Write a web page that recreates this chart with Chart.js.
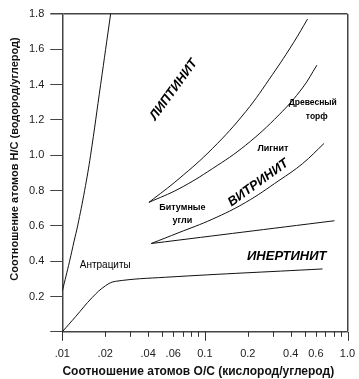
<!DOCTYPE html>
<html>
<head>
<meta charset="utf-8">
<script src="https://cdn.jsdelivr.net/npm/chart.js@4.4.1/dist/chart.umd.min.js"></script>
<style>
  html, body { margin: 0; padding: 0; background: #fff; }
  #wrap { width: 359px; height: 379px; }
</style>
</head>
<body>
<div id="wrap"><canvas id="vk"></canvas></div>
<script>
// кривые диаграммы (O/C по x, H/C по y)
var steepOC = [0.01, 0.01125, 0.0121, 0.01281, 0.01434, 0.01579, 0.01857, 0.02182];
var steepHC = [0.23, 0.40, 0.514, 0.60, 0.80, 1.00, 1.40, 1.80];

var anthrOC = [0.01, 0.0124, 0.0162, 0.0201, 0.0237, 0.0531, 0.668];
var anthrHC = [0.0, 0.086, 0.194, 0.261, 0.286, 0.309, 0.356];

var liptOC = [0.0405, 0.0658, 0.1129, 0.1933, 0.2977, 0.420, 0.524];
var liptHC = [0.733, 0.867, 1.038, 1.247, 1.457, 1.64, 1.771];

var peatOC = [0.0405, 0.0658, 0.1129, 0.1933, 0.331, 0.483, 0.61];
var peatHC = [0.733, 0.81, 0.924, 1.057, 1.229, 1.381, 1.51];

var vitrOC = [0.042, 0.0658, 0.1129, 0.1933, 0.331, 0.483, 0.685];
var vitrHC = [0.50, 0.562, 0.638, 0.733, 0.857, 0.952, 1.067];

var inertOC = [0.042, 0.81];
var inertHC = [0.50, 0.629];

var xTickValues = [0.01,0.02,0.03,0.04,0.05,0.06,0.07,0.08,0.09,0.1,0.2,0.3,0.4,0.5,0.6,0.7,0.8,0.9,1];
var xTickLabels = [".01",".02","",".04","",".06","","","","0.1","0.2","","0.4","","0.6","","","","1.0"];
var xMajorTicks = [0.01, 0.1, 1];
var yTickValues = [0,0.2,0.4,0.6,0.8,1.0,1.2,1.4,1.6,1.8];
var yTickLabels = ["","0.2","0.4","0.6","0.8","1.0","1.2","1.4","1.6","1.8"];

var xTitle = "Соотношение атомов O/C (кислород/углерод)";
var yTitle = "Соотношение атомов H/C (водород/углерод)";

function pts(xs, ys) {
  return xs.map(function(x, i){ return {x: x, y: ys[i]}; });
}

function curve(xs, ys) {
  return {
    data: pts(xs, ys),
    showLine: true,
    borderColor: "#111",
    borderWidth: 1,
    pointRadius: 0,
    tension: 0.4
  };
}

// подписи областей: координаты в единицах осей
var areaLabels = [
  {text: "ЛИПТИНИТ", x: 0.0604, y: 1.371, rot: -54, font: "italic bold 13px 'Liberation Sans'"},
  {text: "Древесный", x: 0.571, y: 1.297, rot: 0, font: "bold 8.5px 'Liberation Sans'"},
  {text: "торф", x: 0.609, y: 1.217, rot: 0, font: "bold 8.5px 'Liberation Sans'"},
  {text: "Лигнит", x: 0.30, y: 1.04, rot: 0, font: "bold 9px 'Liberation Sans'"},
  {text: "ВИТРИНИТ", x: 0.2366, y: 0.843, rot: -36, font: "italic bold 13px 'Liberation Sans'"},
  {text: "Битумные", x: 0.0695, y: 0.705, rot: 0, font: "bold 9px 'Liberation Sans'"},
  {text: "угли", x: 0.0695, y: 0.629, rot: 0, font: "bold 9px 'Liberation Sans'"},
  {text: "ИНЕРТИНИТ", x: 0.375, y: 0.429, rot: 0, font: "italic 600 13px 'Liberation Sans'"},
  {text: "Антрациты", x: 0.02, y: 0.377, rot: 0, font: "10px 'Liberation Sans'"}
];

var labelPlugin = {
  id: "areaLabels",
  afterDatasetsDraw: function(chart) {
    var c = chart.ctx, xs = chart.scales.x, ys = chart.scales.y, a = chart.chartArea;
    areaLabels.forEach(function(l){
      c.save();
      c.translate(xs.getPixelForValue(l.x), ys.getPixelForValue(l.y));
      c.rotate(l.rot * Math.PI / 180);
      c.font = l.font;
      c.fillStyle = "#000";
      c.textAlign = "center";
      c.textBaseline = "middle";
      c.fillText(l.text, 0, 0);
      c.restore();
    });
    // засечки оси x: короткие и длинные на декадах
    c.save();
    c.strokeStyle = "#333";
    c.lineWidth = 1;
    xTickValues.forEach(function(v){
      var px = Math.round(xs.getPixelForValue(v)) + 0.5;
      var len = xMajorTicks.indexOf(v) >= 0 ? 9 : 5;
      c.beginPath();
      c.moveTo(px, a.bottom);
      c.lineTo(px, a.bottom + len);
      c.stroke();
    });
    // подписи осей
    c.font = "bold 12px 'Liberation Sans'";
    c.fillStyle = "#111";
    c.textAlign = "center";
    c.textBaseline = "middle";
    c.fillText(xTitle, a.left + 136, a.bottom + 40);
    c.translate(15, 159);
    c.rotate(-Math.PI / 2);
    c.font = "bold 11px 'Liberation Sans'";
    c.fillText(yTitle, 0, 0);
    c.restore();
  }
};

new Chart("vk", {
  type: "scatter",
  data: {
    datasets: [
      curve(steepOC, steepHC),
      curve(anthrOC, anthrHC),
      curve(liptOC, liptHC),
      curve(peatOC, peatHC),
      curve(vitrOC, vitrHC),
      curve(inertOC, inertHC)
    ]
  },
  options: {
    responsive: true,
    maintainAspectRatio: false,
    animation: false,
    layout: { padding: { left: 23, top: 14, right: 11.5, bottom: 16 } },
    plugins: { legend: { display: false }, tooltip: { enabled: false } },
    scales: {
      x: {
        type: "logarithmic",
        min: 0.01,
        max: 1,
        afterBuildTicks: function(s){ s.ticks = xTickValues.map(function(v){ return {value: v}; }); },
        ticks: {
          autoSkip: false,
          maxRotation: 0,
          padding: 2,
          color: "#222",
          font: { family: "Liberation Sans", size: 11 },
          callback: function(v, i){ return xTickLabels[i]; }
        },
        grid: {
          tickLength: 14,
          tickColor: "rgba(0,0,0,0)",
          lineWidth: function(ctx){ return ctx.tick && ctx.tick.value === 1 ? 1.5 : 1; },
          color: function(ctx){ return ctx.tick && ctx.tick.value === 1 ? "#444" : "rgba(0,0,0,0)"; }
        },
        border: { display: true, color: "#444", width: 1.5 },
        title: { display: false }
      },
      y: {
        min: 0,
        max: 1.8,
        afterBuildTicks: function(s){ s.ticks = yTickValues.map(function(v){ return {value: v}; }); },
        ticks: {
          padding: 6,
          color: "#222",
          font: { family: "Liberation Sans", size: 11 },
          callback: function(v, i){ return yTickLabels[i]; }
        },
        grid: {
          tickLength: 12,
          tickColor: "#444",
          lineWidth: function(ctx){ return ctx.tick && ctx.tick.value === 1.8 ? 1.5 : 1; },
          color: function(ctx){ return ctx.tick && ctx.tick.value === 1.8 ? "#444" : "rgba(0,0,0,0)"; }
        },
        border: { display: true, color: "#444", width: 1.5 },
        title: { display: false }
      }
    }
  },
  plugins: [labelPlugin]
});
</script>
</body>
</html>
